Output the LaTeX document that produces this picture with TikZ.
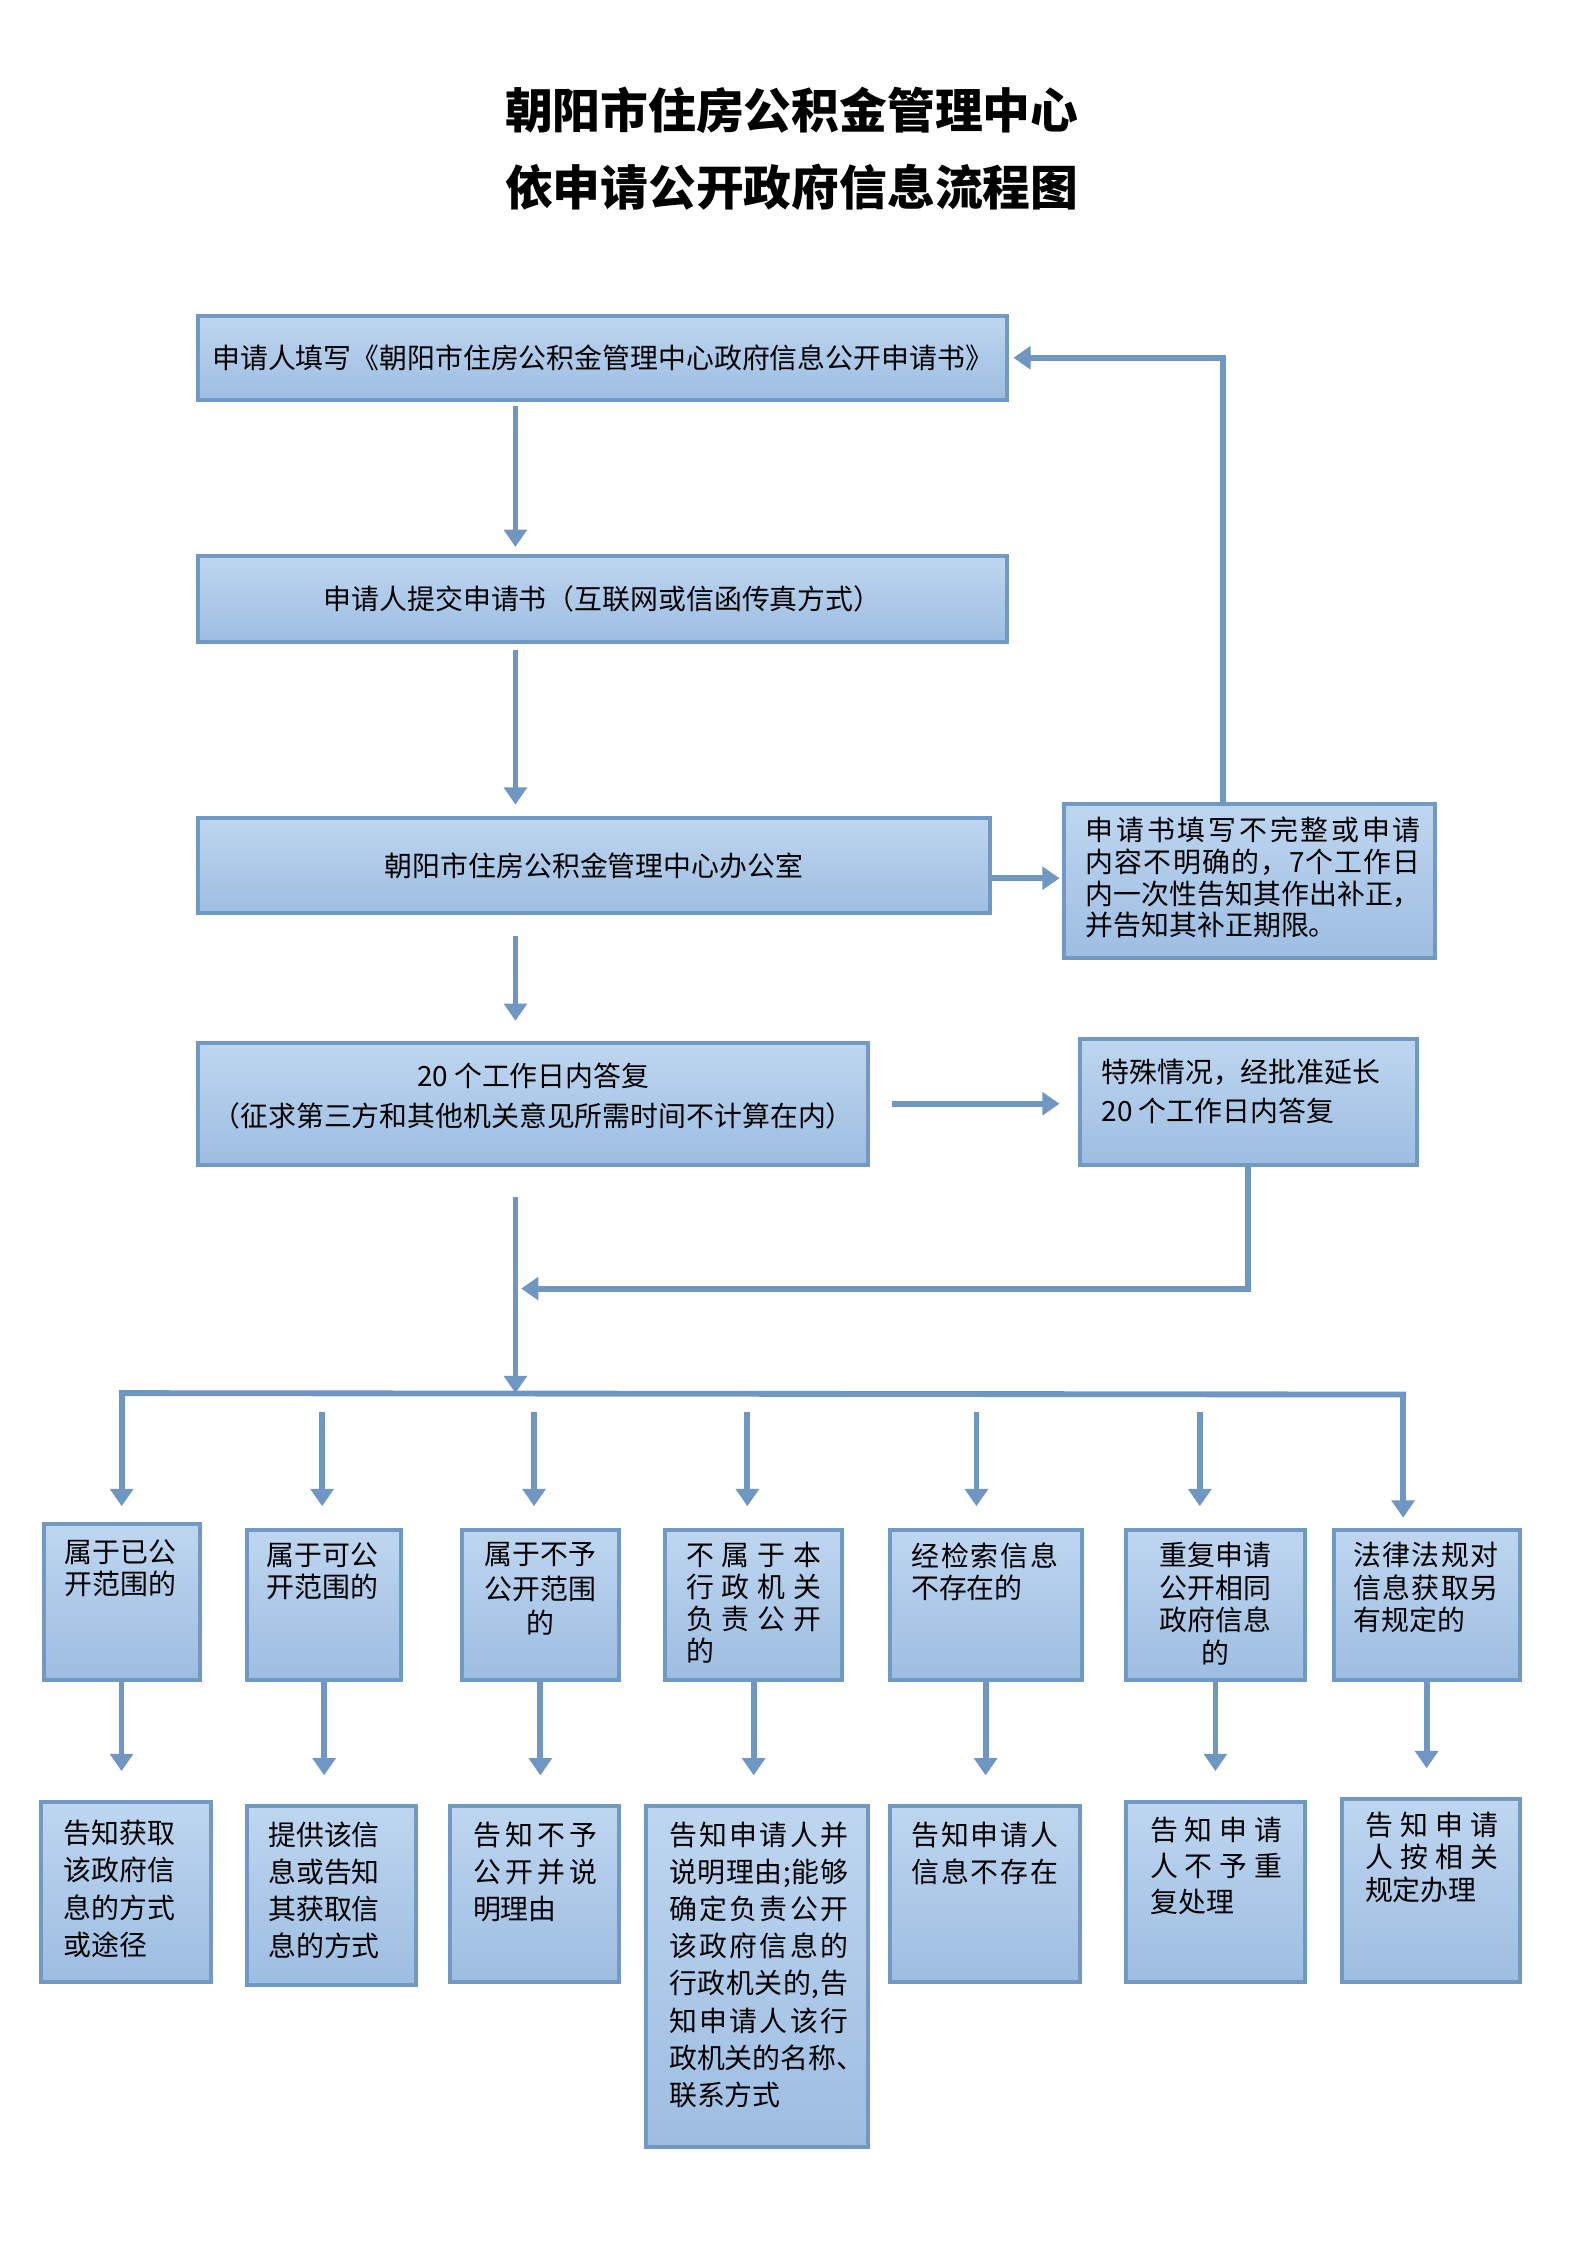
\documentclass[tikz,border=0pt]{standalone}
\usepackage{fontspec}
\setmainfont{Noto Sans CJK SC}
\usetikzlibrary{arrows.meta}

\definecolor{boxtop}{RGB}{190,214,240}
\definecolor{boxbot}{RGB}{157,189,225}
\definecolor{boxline}{RGB}{114,152,196}
\definecolor{arrline}{RGB}{112,150,195}

\newdimen\gu \gu=0.18953cm

% one line stretched to the full text width
\newcommand{\spread}[1]{\makebox[\linewidth][s]{\spaceskip=0pt plus 1fil\relax #1}}
% box text: width, height, top pad, left pad, text width, text
\newcommand{\boxtxt}[6]{%
  \parbox[t][#2\gu][t]{#1\gu}{\vspace*{#3\gu}\hspace*{#4\gu}\parbox[t]{#5\gu}{#6}}}

\tikzset{
  blk/.style={draw=boxline, line width=1.5pt, top color=boxtop, bottom color=boxbot,
    inner sep=0pt, anchor=north west, font=\fontsize{10.5}{14}\selectfont},
  arr/.style={draw=arrline, line width=2.2pt, -{Triangle[length=6.5pt,width=8.5pt]}},
  bus/.style={draw=arrline, line width=2.2pt, line cap=rect},
}

\begin{document}
\begin{tikzpicture}[x=\gu, y=-\gu]
  \useasboundingbox (0,0) rectangle (110.8,156.8);

  \node[font=\fontsize{18}{29}\selectfont\bfseries, align=center] (title) at (55.3,10.4)
    {朝阳市住房公积金管理中心\\依申请公开政府信息流程图};

  \node[blk, minimum width=56.5\gu, minimum height=5.9\gu] (apply) at (13.7,21.9)
    {申请人填写《朝阳市住房公积金管理中心政府信息公开申请书》};
  \node[blk, minimum width=56.5\gu, minimum height=6.0\gu] (submit) at (13.7,38.7)
    {申请人提交申请书（互联网或信函传真方式）};
  \node[blk, minimum width=55.3\gu, minimum height=6.6\gu] (office) at (13.7,57.0)
    {朝阳市住房公积金管理中心办公室};
  \node[blk, font=\fontsize{10.5}{12}\selectfont] (incomplete) at (74.2,56.0)
    {\boxtxt{25.9}{10.8}{0.9}{1.5}{23.4}{\spread{申 请 书 填 写 不 完 整 或 申 请}\\
      \spread{内 容 不 明 确 的 ， 7 个 工 作 日}\\
      \spread{内 一 次 性 告 知 其 作 出 补 正 ，}\\
      并告知其补正期限。}};
  \node[blk, font=\fontsize{10.5}{15}\selectfont] (reply) at (13.7,72.7)
    {\boxtxt{46.8}{8.5}{1.4}{0}{46.8}{\centering 20 个工作日内答复\\
      （征求第三方和其他机关意见所需时间不计算在内）\par}};
  \node[blk, font=\fontsize{10.5}{15}\selectfont] (extend) at (75.3,72.4)
    {\boxtxt{23.5}{8.8}{1.4}{1.5}{21}{特殊情况，经批准延长\\20 个工作日内答复}};

  % categories
  \node[blk, font=\fontsize{10.5}{12}\selectfont] (c1) at (2.9,106.3)
    {\boxtxt{10.9}{10.9}{1.1}{1.5}{7.8}{属于已公\\开范围的}};
  \node[blk, font=\fontsize{10.5}{12}\selectfont] (c2) at (17.1,106.7)
    {\boxtxt{10.8}{10.5}{0.9}{1.4}{7.8}{属于可公\\开范围的}};
  \node[blk, font=\fontsize{10.5}{13}\selectfont] (c3) at (32.1,106.7)
    {\boxtxt{11.0}{10.5}{0.9}{1.6}{7.8}{\centering 属于不予\\公开范围\\的\par}};
  \node[blk, font=\fontsize{10.5}{12}\selectfont] (c4) at (46.3,106.7)
    {\boxtxt{12.4}{10.5}{0.9}{1.5}{9.4}{\spread{不 属 于 本}\\ \spread{行 政 机 关}\\
      \spread{负 责 公 开}\\ 的}};
  \node[blk, font=\fontsize{10.5}{12}\selectfont] (c5) at (62.0,106.7)
    {\boxtxt{13.4}{10.5}{0.9}{1.5}{10.3}{\spread{经 检 索 信 息}\\ 不存在的}};
  \node[blk, font=\fontsize{10.5}{12.2}\selectfont] (c6) at (78.5,106.7)
    {\boxtxt{12.5}{10.5}{0.9}{2.35}{7.8}{\centering 重复申请\\公开相同\\政府信息\\的\par}};
  \node[blk, font=\fontsize{10.5}{12.2}\selectfont] (c7) at (93.0,106.7)
    {\boxtxt{13.0}{10.5}{0.9}{1.4}{10.1}{\spread{法 律 法 规 对}\\ \spread{信 息 获 取 另}\\ 有规定的}};

  % results
  \node[blk] (r1) at (2.7,125.7)
    {\boxtxt{11.9}{12.6}{1.3}{1.6}{7.8}{告知获取\\该政府信\\息的方式\\或途径}};
  \node[blk] (r2) at (17.1,126.0)
    {\boxtxt{11.8}{12.5}{1.1}{1.5}{7.8}{提供该信\\息或告知\\其获取信\\息的方式}};
  \node[blk] (r3) at (31.3,126.0)
    {\boxtxt{11.8}{12.3}{1.1}{1.6}{8.7}{\spread{告 知 不 予}\\ \spread{公 开 并 说}\\ 明理由}};
  \node[blk] (r4) at (45.0,126.0)
    {\boxtxt{15.5}{23.8}{1.1}{1.6}{12.5}{\spread{告 知 申 请 人 并}\\
      \spread{说 明 理 由 ; 能 够}\\ \spread{确 定 负 责 公 开}\\
      \spread{该 政 府 信 息 的}\\ \spread{行 政 机 关 的 , 告}\\
      \spread{知 申 请 人 该 行}\\ 政机关的名称、\\ 联系方式}};
  \node[blk] (r5) at (62.0,126.0)
    {\boxtxt{13.3}{12.3}{1.1}{1.5}{10.3}{\spread{告 知 申 请 人}\\ \spread{信 息 不 存 在}}};
  \node[blk, font=\fontsize{10.5}{13.5}\selectfont] (r6) at (78.5,125.7)
    {\boxtxt{12.5}{12.6}{1.1}{1.7}{9.2}{\spread{告 知 申 请}\\ \spread{人 不 予 重}\\ 复处理}};
  \node[blk, font=\fontsize{10.5}{12.3}\selectfont] (r7) at (93.6,125.5)
    {\boxtxt{12.4}{12.8}{0.9}{1.6}{9.3}{\spread{告 知 申 请}\\ \spread{人 按 相 关}\\ 规定办理}};

  \coordinate (trunk) at (36,0);
  \coordinate (back) at (85.4,0);
  \coordinate (merge) at (36,90);
  \coordinate (bus) at (36,97.3);
  \coordinate (busL) at (8.5,97.3);
  \coordinate (busR) at (98.0,97.4);

  \draw[arr, shorten <=0.3\gu, shorten >=0.5\gu] (apply.south -| trunk) -- (submit.north -| trunk);
  \draw[arr, shorten <=0.4\gu, shorten >=0.8\gu] (submit.south -| trunk) -- (office.north -| trunk);
  \draw[arr, shorten >=0.2\gu] ([yshift=-0.9\gu]office.east) -- ([yshift=-0.9\gu]office.east -| incomplete.west);
  \draw[arr, shorten >=0.3\gu] (incomplete.north -| back) |- (apply.east);
  \draw[arr, shorten <=1.5\gu, shorten >=1.4\gu] (office.south -| trunk) -- (reply.north -| trunk);
  \draw[arr, shorten <=1.5\gu, shorten >=1.3\gu] (reply.east) -- (reply.east -| extend.west);
  \draw[arr, shorten >=0.4\gu] (extend.south) |- (merge);
  \draw[arr, shorten <=2.1\gu] (reply.south -| trunk) -- (bus);

  \draw[bus] (busL) -- (busR);
  \draw[arr, shorten >=1.1\gu] (busL) -- (busL |- c1.north);
  \draw[arr, shorten >=0.7\gu] (busR) -- (busR |- c7.north);
  \foreach \n/\x in {c2/22.5, c3/37.3, c4/52.2, c5/68.2, c6/83.8}
    \draw[arr, shorten >=1.5\gu] (\x,98.6) coordinate (d\n) -- (d\n |- \n.north);

  \foreach \i in {1,...,7}
    \draw[arr, shorten >=2.0\gu] (c\i.south) -- (c\i.south |- r\i.north);
\end{tikzpicture}
\end{document}
